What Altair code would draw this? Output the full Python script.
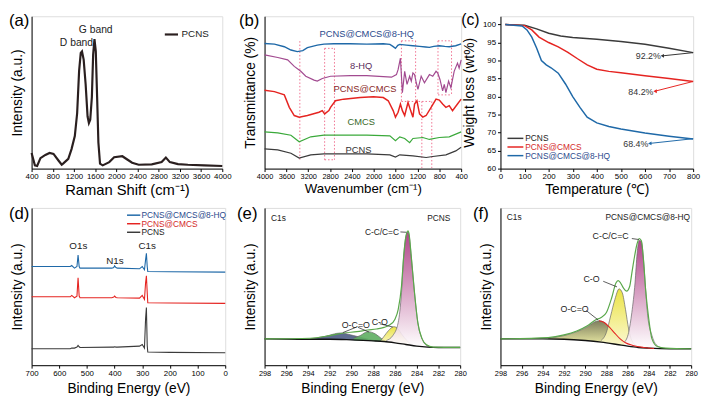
import altair as alt
import pandas as pd

FONT = "Liberation Sans"

# ---------------- (a) Raman ----------------
ra_x = [400, 462, 505, 567, 660, 740, 814, 907, 969, 1000, 1093, 1154, 1216, 1260, 1297, 1328, 1352, 1383,
        1420, 1457, 1482, 1507, 1538, 1562, 1587, 1612, 1637, 1661, 1692, 1742, 1866, 1958, 2113, 2206, 2298,
        2422, 2669, 2855, 2935, 3010, 3164, 3350, 3659, 4000]
ra_y = [48, 10, 8, 32, 42, 48, 45, 25, 12, 16, 30, 60, 100, 170, 300, 355, 360, 335,
        260, 160, 140, 150, 220, 350, 398, 360, 220, 80, 15, 10, 20, 35, 38, 28, 18,
        12, 13, 20, 34, 20, 14, 12, 10, 8]

# ---------------- (b) FTIR ----------------
ft_blue_x = [4000, 3819, 3638, 3517, 3400, 3300, 3215, 3034, 2913, 2732, 2430, 2128, 1826, 1705, 1650, 1603,
             1560, 1524, 1403, 1283, 1162, 1050, 981, 900, 800, 700, 618, 500, 400]
ft_blue_y = [385, 383, 375, 365, 360, 363, 372, 380, 383, 384, 384, 383, 384, 382, 376, 370,
             379, 382, 380, 378, 376, 374, 373, 376, 378, 376, 375, 378, 384]
ft_hq_x = [4000, 3758, 3577, 3456, 3336, 3245, 3094, 3034, 2943, 2792, 2430, 2128, 1826, 1675, 1585, 1555,
           1512, 1476, 1434, 1391, 1343, 1313, 1283, 1253, 1222, 1191, 1132, 1072, 981, 920, 860, 830, 788,
           739, 709, 679, 630, 588, 528, 467, 437, 400]
ft_hq_y = [350, 342, 335, 315, 300, 285, 273, 270, 278, 285, 287, 287, 284, 282, 290, 305,
           340, 235, 300, 260, 285, 270, 295, 290, 265, 245, 285, 265, 290, 285, 300, 295, 275,
           240, 260, 235, 270, 250, 300, 325, 310, 335]
ft_pc_x = [4000, 3819, 3638, 3547, 3456, 3366, 3215, 3004, 2943, 2900, 2822, 2792, 2702, 2551, 2249, 2008,
           1826, 1735, 1645, 1603, 1555, 1512, 1476, 1434, 1373, 1325, 1283, 1253, 1210, 1162, 1102, 1041,
           950, 860, 800, 739, 679, 618, 558, 467, 400]
ft_pc_y = [242, 238, 228, 190, 165, 160, 165, 175, 180, 170, 180, 190, 210, 215, 220, 222,
           220, 210, 180, 160, 175, 200, 180, 165, 205, 180, 160, 200, 210, 170, 160, 165,
           190, 215, 212, 200, 190, 195, 180, 200, 215]
ft_cm_x = [4000, 3758, 3517, 3366, 3154, 2913, 2128, 1705, 1603, 1524, 1434, 1343, 1283, 1102, 981, 800, 618, 400]
ft_cm_y = [115, 112, 105, 85, 100, 105, 105, 103, 88, 100, 95, 82, 95, 98, 92, 98, 100, 115]
ft_pn_x = [4000, 3758, 3517, 3366, 3154, 2913, 2128, 1705, 1603, 1524, 1283, 1041, 920, 679, 498, 400]
ft_pn_y = [63, 60, 50, 35, 45, 48, 48, 45, 38, 45, 42, 37, 40, 45, 57, 68]
# dotted guide segments (x, y, x2, y2)
ft_seg = [
    (3354, 392, 3354, 30),
    (2900, 370, 2720, 370), (2900, 370, 2900, 30), (2720, 370, 2720, 30), (2900, 30, 2720, 30),
    (1494, 393, 1234, 393), (1494, 393, 1494, 208), (1234, 393, 1234, 208), (1494, 208, 938, 208),
    (1120, 208, 1120, 5), (938, 208, 938, 5),
    (824, 393, 576, 393), (824, 393, 824, 228), (576, 393, 576, 228), (824, 228, 576, 228),
]

# ---------------- (c) TGA ----------------
tg_pc_x = [20, 100, 150, 200, 250, 300, 400, 500, 600, 700, 800]
tg_pc_y = [100, 99.8, 98.8, 97.6, 96.8, 96.4, 95.9, 95.3, 94.5, 93.4, 92.2]
tg_cm_x = [20, 100, 130, 160, 200, 240, 280, 320, 360, 400, 450, 500, 600, 700, 800]
tg_cm_y = [100, 99.7, 98.5, 96.5, 95.0, 93.8, 92.3, 90.5, 88.8, 87.6, 87.0, 86.6, 85.8, 85.0, 84.2]
tg_hq_x = [20, 90, 110, 130, 150, 170, 190, 210, 240, 270, 300, 330, 360, 400, 450, 500, 600, 700, 800]
tg_hq_y = [100, 99.6, 98.5, 96.5, 93.5, 90.0, 88.8, 88.0, 86.5, 83.5, 80.0, 77.0, 74.3, 72.7, 71.7, 71.0, 69.9, 69.0, 68.2]
tg_labels = ["92.2%", "84.2%", "68.4%"]
tg_end_y = [92.2, 84.2, 68.3]

# ---------------- (d) XPS survey ----------------
sv_x = [700, 560, 555, 545, 536, 532, 528, 525, 410, 403, 400, 395, 390, 310, 300, 292, 288, 285, 282, 280, 200, 0]
sv_blue = [300, 300, 303, 295, 300, 335, 300, 295, 295, 297, 302, 297, 295, 293, 300, 290, 320, 340, 300, 285, 284, 283]
sv_red = [208, 208, 212, 205, 210, 266, 210, 205, 205, 207, 210, 206, 205, 204, 212, 200, 250, 272, 220, 190, 189, 188]
sv_blk = [50, 50, 52, 52, 55, 60, 56, 54, 55, 55, 56, 55, 55, 58, 63, 52, 140, 175, 60, 40, 39, 38]

# ---------------- (e) C1s PCNS ----------------
e_env_x = [298, 293.8, 292, 290.7, 289.5, 288.5, 287.7, 287, 286.5, 286.0, 285.7, 285.4, 285.2, 285.0, 284.8,
           284.7, 284.5, 284.2, 283.9, 283.5, 283.1, 282.5, 280]
e_env_y = [80, 82, 90, 98, 102, 107, 110, 115, 122, 140, 170, 240, 330, 390, 408,
           398, 330, 220, 130, 80, 62, 55, 54]
e_bg_x = [298, 294, 292, 290, 288, 287, 286, 285, 284, 283, 282, 280]
e_bg_y = [80, 79, 79, 77, 74, 72, 68, 63, 58, 55, 54, 54]
e_cc_x = [286.8, 286.2, 285.7, 285.4, 285.2, 285.0, 284.8, 284.7, 284.5, 284.2, 283.9, 283.5, 283.1, 282.5]
e_cc_top = [75, 90, 130, 220, 330, 390, 405, 395, 330, 220, 130, 80, 60, 54]
e_cc_bot = [71, 68, 66, 64, 63, 63, 62, 61, 60, 59, 57, 56, 55, 54]
e_co_x = [287.3, 287.0, 286.6, 286.1, 285.7, 285.4, 284.9, 284.5]
e_co_top = [75, 88, 105, 117, 110, 95, 75, 62]
e_co_bot = [73, 72, 70, 68, 66, 65, 62, 60]
e_oco_x = [289.8, 289.2, 288.5, 287.8, 287.2, 286.8]
e_oco_top = [82, 90, 102, 95, 80, 72]
e_oco_bot = [76, 75, 74, 73, 72, 71]
e_pi_x = [293.8, 292.5, 291.0, 289.8, 288.6, 287.7]
e_pi_top = [80, 87, 98, 90, 80, 74]
e_pi_bot = [79, 79, 78, 76, 74, 73]

# ---------------- (f) C1s PCNS@CMCS@8-HQ ----------------
f_env_x = [298, 293.5, 292, 290.8, 289.8, 289.0, 288.5, 288.0, 287.5, 287.1, 286.9, 286.7, 286.4, 286.1, 285.8,
           285.6, 285.4, 285.1, 284.9, 284.7, 284.5, 284.3, 284.0, 283.7, 283.2, 282.4, 280]
f_env_y = [80, 84, 92, 104, 120, 138, 145, 160, 205, 250, 257, 252, 235, 225, 240,
           280, 320, 370, 385, 378, 320, 230, 140, 80, 57, 52, 50]
f_bg_x = [298, 294, 292, 290, 288.5, 287, 286, 285, 284, 282, 280]
f_bg_y = [80, 80, 79, 75, 70, 63, 58, 54, 52, 50, 50]
f_cc_x = [286.3, 285.9, 285.6, 285.3, 285.1, 284.9, 284.7, 284.5, 284.3, 284.1, 283.7, 283.3, 282.7]
f_cc_top = [70, 100, 160, 250, 340, 380, 375, 320, 230, 150, 90, 62, 52]
f_cc_bot = [59, 57, 56, 55, 54, 54, 53, 53, 52, 52, 52, 51, 51]
f_co_x = [288.5, 288.0, 287.6, 287.2, 286.8, 286.5, 286.2, 285.9, 285.6, 285.1]
f_co_top = [75, 100, 150, 200, 232, 220, 170, 110, 75, 58]
f_co_bot = [70, 68, 66, 64, 63, 61, 60, 58, 57, 55]
f_oco_x = [293.5, 292.0, 290.8, 289.8, 289.2, 288.7, 288.2, 287.7, 287.2, 286.7, 286.2]
f_oco_top = [82, 90, 102, 117, 130, 135, 130, 115, 95, 75, 60]
f_oco_bot = [80, 79, 77, 75, 73, 71, 69, 67, 64, 62, 60]
f_red_x = [288.7, 288.2, 287.7, 287.2, 286.7, 286.2, 285.5, 284.5, 283.5]
f_red_y = [135, 130, 115, 97, 80, 68, 60, 54, 51]


# ======================================================
def df(**kw):
    return pd.DataFrame(kw)


AX_KW = dict(labelFont=FONT, titleFont=FONT, titleFontWeight="normal", labelColor="black",
             titleColor="black", domainColor="black", tickColor="black", grid=False)


def xenc(domain, title, values, reverse=False, fs=8, tfs=14, tpad=2):
    return alt.X("x:Q", scale=alt.Scale(domain=domain, reverse=reverse, nice=False, zero=False),
                 axis=alt.Axis(title=title, values=values, labelFontSize=fs, titleFontSize=tfs,
                               tickSize=3, labelPadding=1, titlePadding=tpad, labelFlush=False,
                               labelOverlap=False, format="d", **AX_KW))


def yenc(domain, title, values=None, fs=8, field="y"):
    if values is None:
        ax = alt.Axis(title=title, labels=False, ticks=False, titleFontSize=14, titlePadding=7, **AX_KW)
    else:
        ax = alt.Axis(title=title, values=values, labelFontSize=fs, titleFontSize=14, tickSize=3,
                      labelPadding=2, titlePadding=6, format="d", labelOverlap=False, **AX_KW)
    return alt.Y(field + ":Q", scale=alt.Scale(domain=domain, nice=False, zero=False), axis=ax)


def line(d, X, Y, color, w=1.2, dash=None):
    kw = dict(color=color, strokeWidth=w)
    if dash:
        kw["strokeDash"] = dash
    return alt.Chart(d).mark_line(**kw).encode(x=X, y=Y)


def text(d, X, Y, color="#222", size=9, align="center", baseline="middle"):
    return alt.Chart(d).mark_text(font=FONT, fontSize=size, color=color, align=align,
                                  baseline=baseline).encode(x=X, y=Y, text="t:N")


def label(s, dx, dy, size=17):
    return alt.Chart(df(t=[s])).mark_text(font=FONT, fontSize=size, align="left", baseline="middle",
                                          color="black").encode(x=alt.value(dx), y=alt.value(dy), text="t:N")


def grad(c1, c2):
    return alt.Gradient(gradient="linear", x1=0, x2=0, y1=0, y2=1,
                        stops=[alt.GradientStop(color=c1, offset=0), alt.GradientStop(color=c2, offset=1)])


def peak(xs, top, bot, fill, X, Y, op=0.9):
    d = df(x=xs, y=top, y2=bot)
    return alt.Chart(d).mark_area(color=fill, opacity=op, interpolate="monotone",
                                  line={"color": "#666", "strokeWidth": 0.7}).encode(
        x=X, y=Y, y2="y2:Q")


# ---------------- panel a ----------------
Xa = xenc([400, 4000], "Raman Shift (cm⁻¹)", list(range(400, 4001, 400)), tfs=15)
Ya = yenc([0, 468], "Intensity (a.u.)")
pa = alt.layer(
    line(df(x=ra_x, y=ra_y), Xa, Ya, "#2a1f1f", 2.2),
    line(df(x=[2915, 3164], y=[412, 412]), Xa, Ya, "#2a1f1f", 2.2),
    text(df(x=[3230], y=[412], t=["PCNS"]), Xa, Ya, size=10, align="left"),
    text(df(x=[1247, 1610], y=[385, 425], t=["D band", "G band"]), Xa, Ya, size=10.5),
    label("(a)", -23, 5),
).properties(width=194, height=155)

# ---------------- panel b ----------------
Xb = xenc([400, 4000], "Wavenumber (cm⁻¹)", list(range(400, 4001, 400)), reverse=True, fs=7.5, tfs=13.5)
Yb = yenc([3, 468], "Transmittance (%)")
seg_df = pd.DataFrame(ft_seg, columns=["x", "y", "x2", "y2"])
pb = alt.layer(
    alt.Chart(seg_df).mark_rule(color="#f07090", strokeDash=[1.5, 2], strokeWidth=1).encode(
        x=Xb, y=Yb, x2="x2:Q", y2="y2:Q"),
    line(df(x=ft_pn_x, y=ft_pn_y), Xb, Yb, "#3b3b3b"),
    line(df(x=ft_cm_x, y=ft_cm_y), Xb, Yb, "#3aa93a"),
    line(df(x=ft_pc_x, y=ft_pc_y), Xb, Yb, "#e52421", 1.5),
    line(df(x=ft_hq_x, y=ft_hq_y), Xb, Yb, "#a24a90"),
    line(df(x=ft_blue_x, y=ft_blue_y), Xb, Yb, "#1f69a8", 1.4),
    text(df(x=[2128], y=[415], t=["PCNS@CMCS@8-HQ"]), Xb, Yb, color="#2b4a8c", size=9.5),
    text(df(x=[2230], y=[315], t=["8-HQ"]), Xb, Yb, color="#5a2a5a", size=9.5),
    text(df(x=[2160], y=[245], t=["PCNS@CMCS"]), Xb, Yb, color="#8a2a2a", size=9.5),
    text(df(x=[2230], y=[145], t=["CMCS"]), Xb, Yb, color="#3a6a2a", size=9.5),
    text(df(x=[2280], y=[60], t=["PCNS"]), Xb, Yb, color="#333", size=9.5),
    label("(b)", -26, 5),
).properties(width=200, height=155)

# ---------------- panel c ----------------
Xc = xenc([0, 800], "Temperature (℃)", list(range(0, 801, 100)))
Yc = yenc([60, 102.3], "Weight loss (wt%)", list(range(60, 101, 5)))
tip_x = [672, 642, 620]
tip_y = [91.3, 81.5, 67.0]
arr = df(x=[800, 800, 800], y=tg_end_y, x2=tip_x, y2=tip_y, c=["#333", "#e52421", "#1f69a8"])
tips = df(x=tip_x, y=tip_y, c=["#333", "#e52421", "#1f69a8"])
pc = alt.layer(
    line(df(x=tg_pc_x, y=tg_pc_y), Xc, Yc, "#3b3b3b", 1.5),
    line(df(x=tg_cm_x, y=tg_cm_y), Xc, Yc, "#e52421", 1.5),
    line(df(x=tg_hq_x, y=tg_hq_y), Xc, Yc, "#1f69a8", 1.5),
    alt.Chart(arr).mark_rule(strokeWidth=1).encode(x=Xc, y=Yc, x2="x2:Q", y2="y2:Q",
                                                   color=alt.Color("c:N", scale=None)),
    alt.Chart(tips).mark_point(shape="triangle-left", filled=True, size=16, opacity=1).encode(
        x=Xc, y=Yc, color=alt.Color("c:N", scale=None)),
    text(df(x=[614, 583, 562], y=[91.2, 81.2, 66.7], t=tg_labels), Xc, Yc, color="#333", size=9),
    line(df(x=[29, 95], y=[68.4, 68.4]), Xc, Yc, "#3b3b3b", 1.5),
    line(df(x=[29, 95], y=[66.0, 66.0]), Xc, Yc, "#e52421", 1.5),
    line(df(x=[29, 95], y=[63.6, 63.6]), Xc, Yc, "#1f69a8", 1.5),
    text(df(x=[103], y=[68.4], t=["PCNS"]), Xc, Yc, color="#222", size=8.5, align="left"),
    text(df(x=[103], y=[66.0], t=["PCNS@CMCS"]), Xc, Yc, color="#d42a2a", size=8.5, align="left"),
    text(df(x=[103], y=[63.6], t=["PCNS@CMCS@8-HQ"]), Xc, Yc, color="#2b4a8c", size=8.5, align="left"),
    label("(c)", -40, 4, size=16),
).properties(width=196, height=155)

# ---------------- panel d ----------------
Xd = xenc([0, 700], "Binding Energy (eV)", list(range(0, 701, 100)), reverse=True, tpad=5)
Yd = yenc([0, 478], "Intensity (a.u.)")
pd_ = alt.layer(
    line(df(x=sv_x, y=sv_blk), Xd, Yd, "#3b3b3b", 1.1),
    line(df(x=sv_x, y=sv_red), Xd, Yd, "#e52421", 1.1),
    line(df(x=sv_x, y=sv_blue), Xd, Yd, "#1f69a8", 1.1),
    text(df(x=[531, 399, 282], y=[362, 318, 362], t=["O1s", "N1s", "C1s"]), Xd, Yd, size=10),
    line(df(x=[355, 307], y=[456, 456]), Xd, Yd, "#1f69a8", 1.5),
    line(df(x=[355, 307], y=[430, 430]), Xd, Yd, "#e52421", 1.5),
    line(df(x=[355, 307], y=[404, 404]), Xd, Yd, "#3b3b3b", 1.5),
    text(df(x=[303], y=[456], t=["PCNS@CMCS@8-HQ"]), Xd, Yd, color="#2b4a8c", size=8.5, align="left"),
    text(df(x=[303], y=[430], t=["PCNS@CMCS"]), Xd, Yd, color="#d42a2a", size=8.5, align="left"),
    text(df(x=[303], y=[404], t=["PCNS"]), Xd, Yd, color="#222", size=8.5, align="left"),
    label("(d)", -23, 6),
).properties(width=197, height=160)

# ---------------- panel e ----------------
Xe = xenc([280, 298], "Binding Energy (eV)", list(range(280, 299, 2)), reverse=True, fs=7.5, tpad=5)
Ye = yenc([0, 478], "Intensity (a.u.)")
e_arr = df(x=[289.6, 289.4, 287.4, 285.5], y=[115, 115, 126, 405], x2=[290.8, 288.4, 286.2, 284.95],
           y2=[99, 101, 116, 404])
pe = alt.layer(
    peak(e_pi_x, e_pi_top, e_pi_bot, "#4c5c84", Xe, Ye),
    peak(e_oco_x, e_oco_top, e_oco_bot, "#5eae62", Xe, Ye),
    peak(e_co_x, e_co_top, e_co_bot, grad("#e8e030", "#fbf8d0"), Xe, Ye),
    peak(e_cc_x, e_cc_top, e_cc_bot, grad("#a8307c", "#ffffff"), Xe, Ye),
    alt.Chart(df(x=e_bg_x, y=e_bg_y)).mark_line(color="#111", strokeWidth=1.4, interpolate="monotone").encode(x=Xe, y=Ye),
    alt.Chart(df(x=e_env_x, y=e_env_y)).mark_line(color="#5aa84a", strokeWidth=1.2, interpolate="monotone").encode(x=Xe, y=Ye),
    alt.Chart(e_arr).mark_rule(color="#333", strokeWidth=0.8).encode(x=Xe, y=Ye, x2="x2:Q", y2="y2:Q"),
    text(df(x=[297.4], y=[448], t=["C1s"]), Xe, Ye, size=8.5, align="left"),
    text(df(x=[280.9], y=[448], t=["PCNS"]), Xe, Ye, size=8.5, align="right"),
    text(df(x=[287.2], y=[406], t=["C-C/C=C"]), Xe, Ye, size=8.5),
    text(df(x=[287.4], y=[132], t=["C-O"]), Xe, Ye, size=9),
    text(df(x=[289.6], y=[122], t=["O-C=O"]), Xe, Ye, size=9),
    label("(e)", -28, 6),
).properties(width=199, height=160)

# ---------------- panel f ----------------
Xf = xenc([280, 298], "Binding Energy (eV)", list(range(280, 299, 2)), reverse=True, fs=7.5, tpad=5)
Yf = yenc([0, 478], "Intensity (a.u.)")
f_arr = df(x=[289.9, 288.3, 285.6], y=[166, 255, 385], x2=[288.8, 287.0, 284.95], y2=[138, 238, 382])
pf = alt.layer(
    peak(f_oco_x, f_oco_top, f_oco_bot, grad("#70704c", "#ecec9c"), Xf, Yf),
    peak(f_co_x, f_co_top, f_co_bot, grad("#e8e030", "#fbf8d0"), Xf, Yf),
    peak(f_cc_x, f_cc_top, f_cc_bot, grad("#a8307c", "#ffffff"), Xf, Yf),
    alt.Chart(df(x=f_bg_x, y=f_bg_y)).mark_line(color="#111", strokeWidth=1.4, interpolate="monotone").encode(x=Xf, y=Yf),
    alt.Chart(df(x=f_red_x, y=f_red_y)).mark_line(color="#e52421", strokeWidth=1.1, interpolate="monotone").encode(x=Xf, y=Yf),
    alt.Chart(df(x=f_env_x, y=f_env_y)).mark_line(color="#5aa84a", strokeWidth=1.2, interpolate="monotone").encode(x=Xf, y=Yf),
    alt.Chart(f_arr).mark_rule(color="#333", strokeWidth=0.8).encode(x=Xf, y=Yf, x2="x2:Q", y2="y2:Q"),
    text(df(x=[297.4], y=[450], t=["C1s"]), Xf, Yf, size=8.5, align="left"),
    text(df(x=[280.1], y=[450], t=["PCNS@CMCS@8-HQ"]), Xf, Yf, size=8.5, align="right"),
    text(df(x=[287.6], y=[392], t=["C-C/C=C"]), Xf, Yf, size=9),
    text(df(x=[289.4], y=[262], t=["C-O"]), Xf, Yf, size=9),
    text(df(x=[291.0], y=[172], t=["O-C=O"]), Xf, Yf, size=9),
    label("(f)", -28, 6),
).properties(width=194, height=160)

chart = alt.concat(pa, pb, pc, pd_, pe, pf, columns=3, bounds="flush", align="none",
                   spacing={"row": 40, "column": 40}).properties(
    padding={"left": 0, "top": 0, "right": 0, "bottom": 0}).configure_view(
    stroke="black", strokeWidth=1).configure(font=FONT)

chart.save("out.html", embed_options={"renderer": "svg", "actions": False})
